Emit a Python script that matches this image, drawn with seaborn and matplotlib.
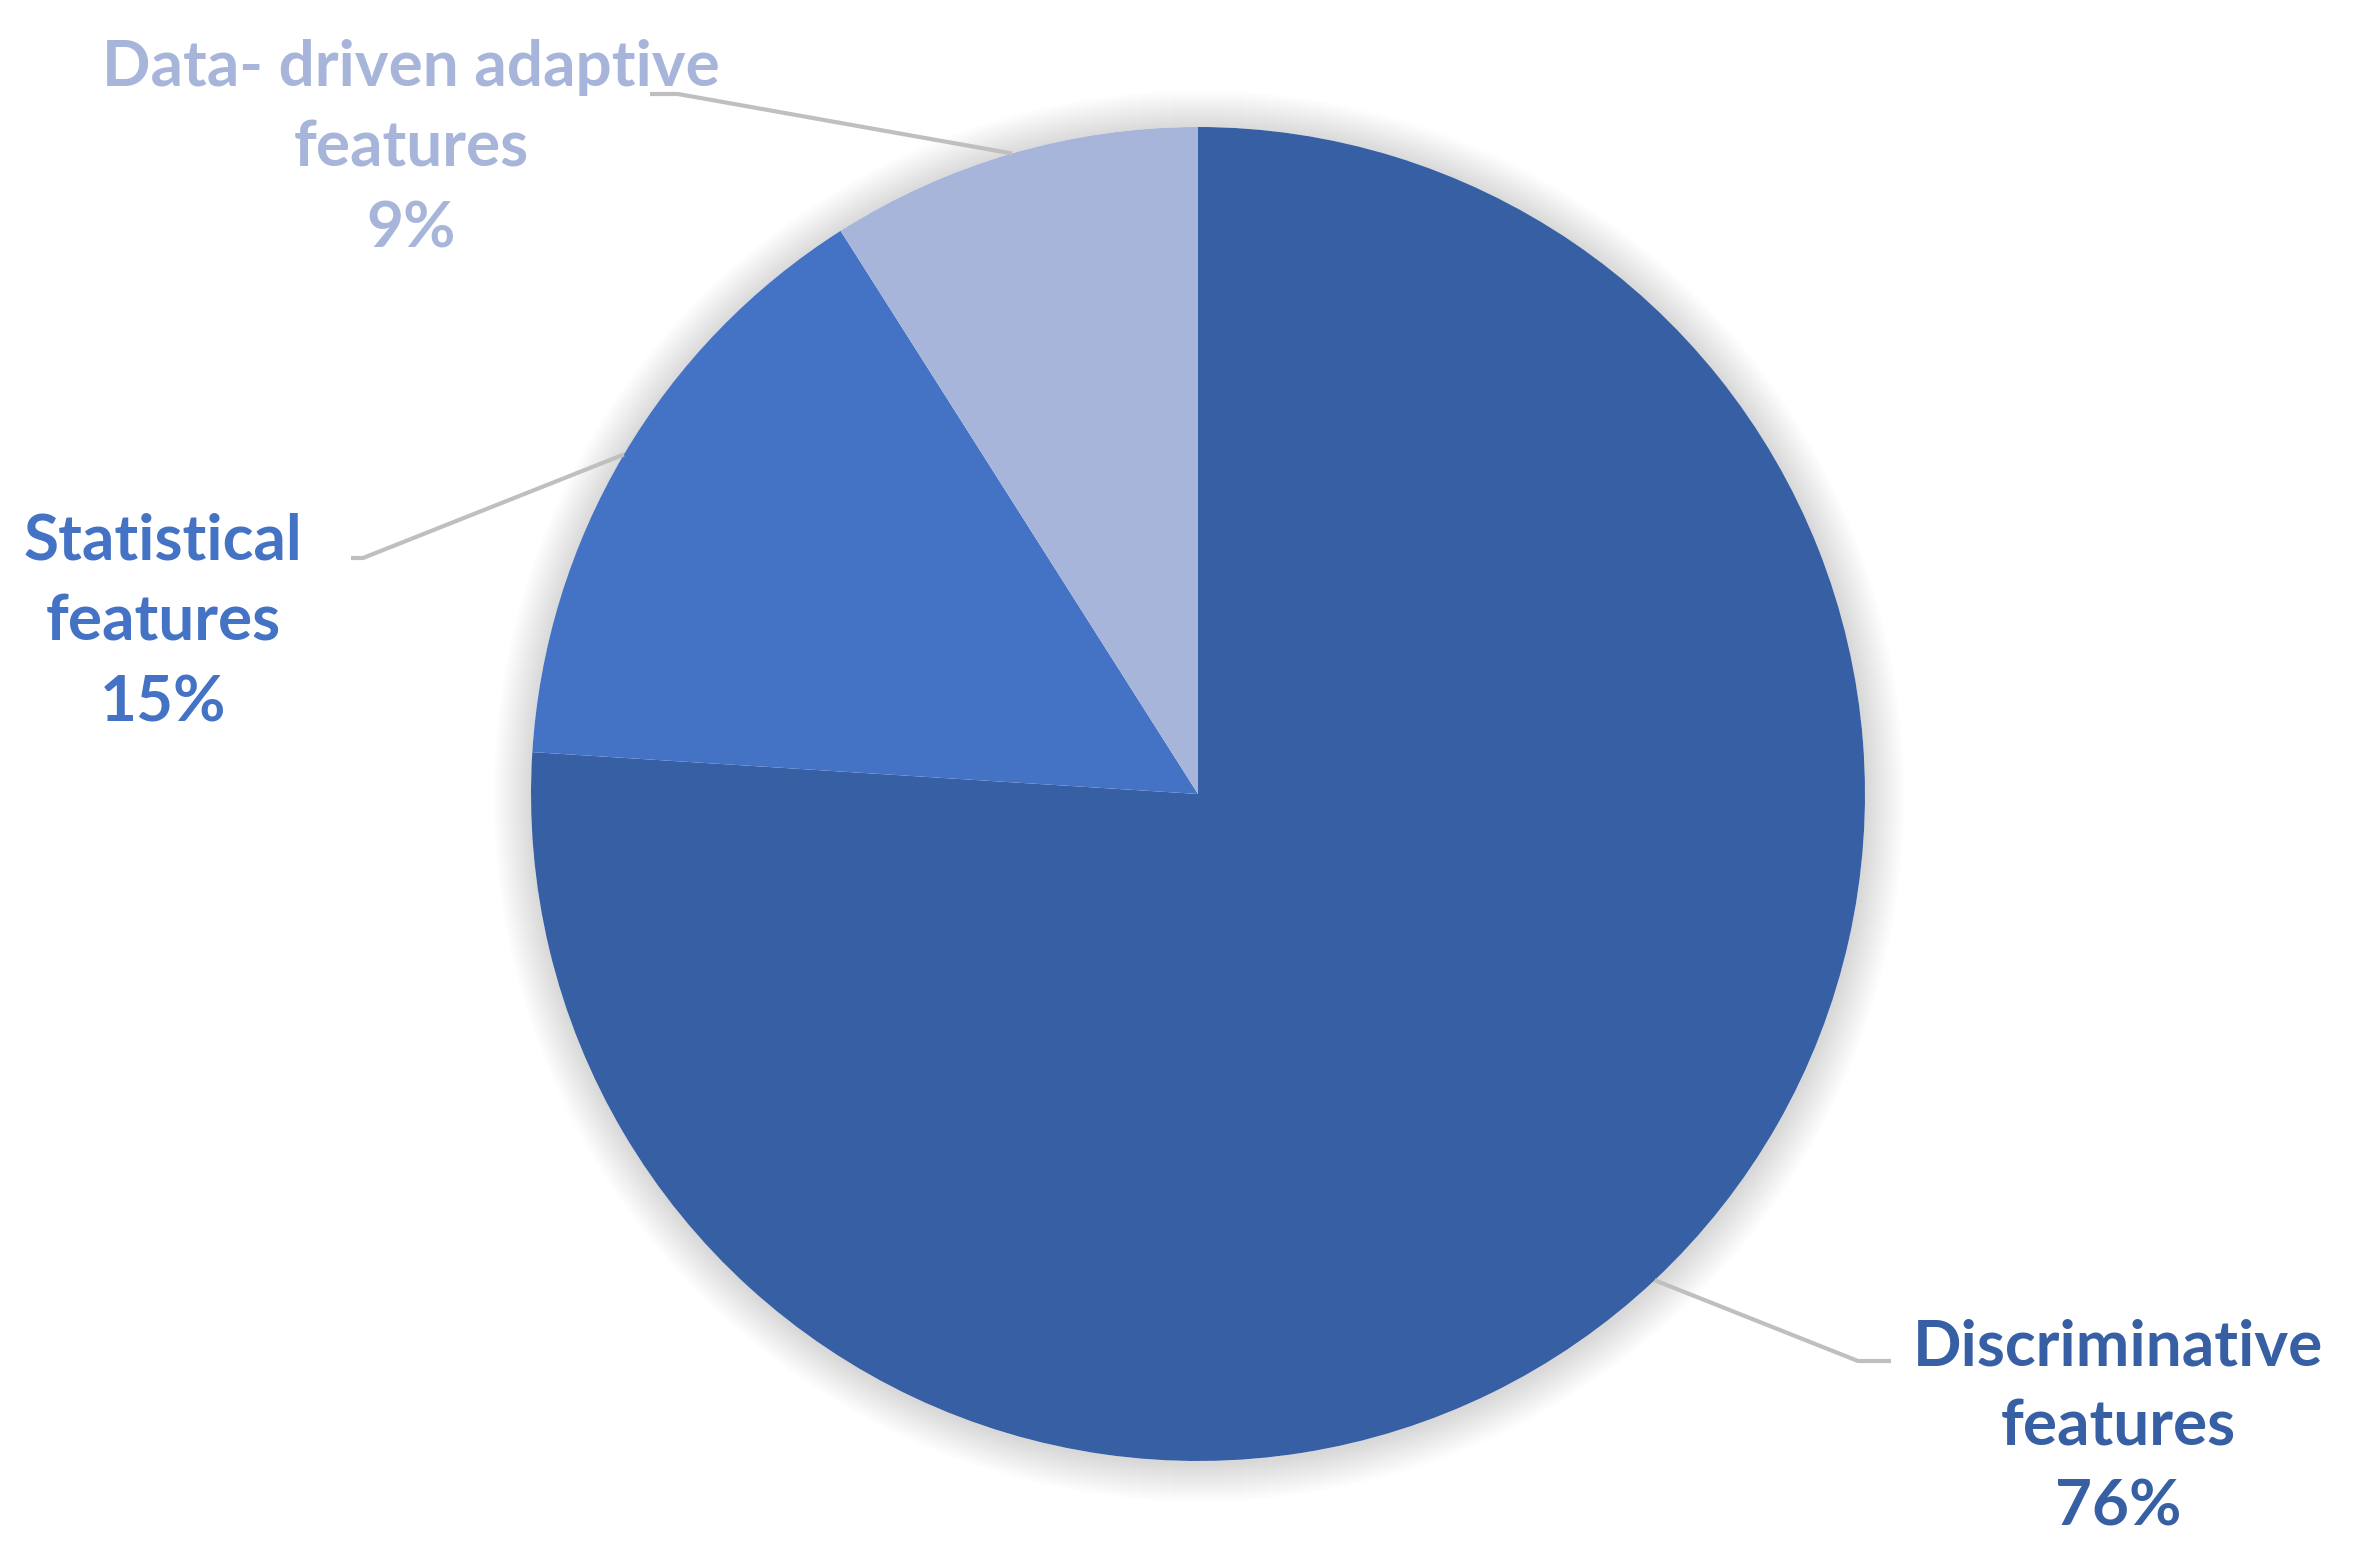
import numpy as np
import matplotlib
matplotlib.use("Agg")
import matplotlib.pyplot as plt
import seaborn as sns

# data
categories = ["Discriminative features", "Statistical features", "Data- driven adaptive features"]
shares = [76, 15, 9]
colors = ["#375FA3", "#4472C4", "#A8B5DA"]
label_lines = [["Discriminative", "features"], ["Statistical", "features"], ["Data- driven adaptive", "features"]]

sns.set_theme(style="white")
plt.rcParams["font.family"] = ["Lato", "DejaVu Sans"]

W, H = 2372, 1566
fig = plt.figure(figsize=(W / 100, H / 100), dpi=100)
ax = fig.add_axes([0, 0, 1, 1])

cx, cy, r = 1198, H - 794, 667

# soft shadow behind the pie
for k in range(1, 40):
    ax.add_patch(plt.Circle((cx + 1, cy - 2), r + k, color="#000000", alpha=0.0055, lw=0, zorder=0))
ax.add_patch(plt.Circle((cx, cy), r, color="white", lw=0, zorder=0.5))

wedges, _ = ax.pie(shares, colors=colors, startangle=90, counterclock=False,
                   center=(cx, cy), radius=r, wedgeprops=dict(linewidth=0), frame=True)
ax.set_xlim(0, W)
ax.set_ylim(0, H)
ax.set_aspect("equal")
ax.axis("off")

# label layout (image px, y from top): text centre, elbow, line end
layout = {
    "Discriminative features": dict(text=(2118, 1427), elbow=(1858, 1361), end=(1891, 1361)),
    "Statistical features": dict(text=(163, 622), elbow=(363, 558), end=(351, 558)),
    "Data- driven adaptive features": dict(text=(411, 148), elbow=(678, 94), end=(650, 94)),
}

for w, cat, lines, pct, col in zip(wedges, categories, label_lines, shares, colors):
    mid = np.deg2rad((w.theta1 + w.theta2) / 2)
    px, py = cx + r * np.cos(mid), cy + r * np.sin(mid)
    L = layout[cat]
    ex, ey = L["elbow"][0], H - L["elbow"][1]
    tx, ty = L["end"][0], H - L["end"][1]
    ax.plot([px, ex, tx], [py, ey, ty], color="#BFBFBF", lw=3.0, solid_capstyle="butt", zorder=3)
    ax.text(L["text"][0], H - L["text"][1], "\n".join(lines + [f"{pct}%"]),
            ha="center", va="center", color=col, fontsize=46, fontweight="bold",
            linespacing=1.5, zorder=4)

fig.savefig("out.png", dpi=100)
